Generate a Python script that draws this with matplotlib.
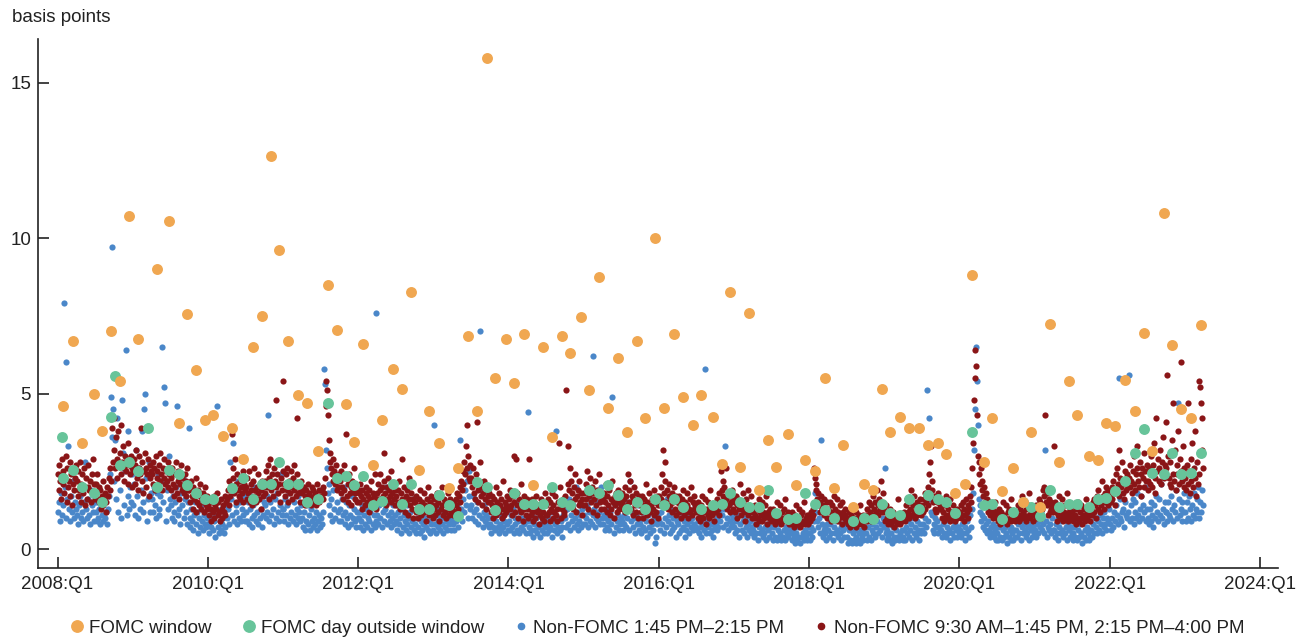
import numpy as np
import pandas as pd
import matplotlib
matplotlib.use('Agg')
import matplotlib.pyplot as plt
from matplotlib.lines import Line2D

plt.rcParams['font.family'] = ['Liberation Sans', 'DejaVu Sans']

# FOMC announcement days: move inside the 1:45-2:15 PM window (basis points)
fomc_dates = [
    "2008-01-30", "2008-03-18", "2008-04-30", "2008-06-25", "2008-08-05", "2008-09-16", "2008-10-29", "2008-12-16",
    "2009-01-28", "2009-04-29", "2009-06-24", "2009-08-12", "2009-09-23", "2009-11-04", "2009-12-16",
    "2010-01-27", "2010-03-16", "2010-04-28", "2010-06-23", "2010-08-10", "2010-09-21", "2010-11-03", "2010-12-14",
    "2011-01-26", "2011-03-15", "2011-04-27", "2011-06-22", "2011-08-09", "2011-09-21", "2011-11-02", "2011-12-13",
    "2012-01-25", "2012-03-13", "2012-04-25", "2012-06-20", "2012-08-01", "2012-09-13", "2012-10-24", "2012-12-12",
    "2013-01-30", "2013-03-20", "2013-05-01", "2013-06-19", "2013-07-31", "2013-09-18", "2013-10-30", "2013-12-18",
    "2014-01-29", "2014-03-19", "2014-04-30", "2014-06-18", "2014-07-30", "2014-09-17", "2014-10-29", "2014-12-17",
    "2015-01-28", "2015-03-18", "2015-04-29", "2015-06-17", "2015-07-29", "2015-09-17", "2015-10-28", "2015-12-16",
    "2016-01-27", "2016-03-16", "2016-04-27", "2016-06-15", "2016-07-27", "2016-09-21", "2016-11-02", "2016-12-14",
    "2017-02-01", "2017-03-15", "2017-05-03", "2017-06-14", "2017-07-26", "2017-09-20", "2017-11-01", "2017-12-13",
    "2018-01-31", "2018-03-21", "2018-05-02", "2018-06-13", "2018-08-01", "2018-09-26", "2018-11-08", "2018-12-19",
    "2019-01-30", "2019-03-20", "2019-05-01", "2019-06-19", "2019-07-31", "2019-09-18", "2019-10-30", "2019-12-11",
    "2020-01-29", "2020-03-03", "2020-04-29", "2020-06-10", "2020-07-29", "2020-09-16", "2020-11-05", "2020-12-16",
    "2021-01-27", "2021-03-17", "2021-04-28", "2021-06-16", "2021-07-28", "2021-09-22", "2021-11-03", "2021-12-15",
    "2022-01-26", "2022-03-16", "2022-05-04", "2022-06-15", "2022-07-27", "2022-09-21", "2022-11-02", "2022-12-14",
    "2023-02-01", "2023-03-22",
]
fomc_window = [
    4.6, 6.7, 3.4, 5.0, 3.8, 7.0, 5.4, 10.7,
    6.75, 9.0, 10.55, 4.05, 7.55, 5.75, 4.15,
    4.3, 3.65, 3.9, 2.9, 6.5, 7.5, 12.65, 9.6,
    6.7, 4.95, 4.7, 3.15, 8.5, 7.05, 4.65, 3.45,
    6.6, 2.7, 4.15, 5.8, 5.15, 8.25, 2.55, 4.45,
    3.4, 1.95, 2.6, 6.85, 4.45, 15.8, 5.5, 6.75,
    5.35, 6.9, 2.05, 6.5, 3.6, 6.85, 6.3, 7.45,
    5.1, 8.75, 4.55, 6.15, 3.75, 6.7, 4.2, 10.0,
    4.55, 6.9, 4.9, 4.0, 4.95, 4.25, 2.75, 8.25,
    2.65, 7.6, 1.9, 3.5, 2.65, 3.7, 2.05, 2.85,
    2.5, 5.5, 1.95, 3.35, 1.35, 2.1, 1.9, 5.15,
    3.75, 4.25, 3.9, 3.9, 3.35, 3.4, 3.05, 1.8,
    2.1, 8.8, 2.8, 4.2, 1.85, 2.6, 1.5, 3.75,
    1.35, 7.25, 2.8, 5.4, 4.3, 3.0, 2.85, 4.05,
    3.95, 5.45, 4.45, 6.95, 3.15, 10.8, 6.55, 4.5,
    4.2, 7.2,
]

# FOMC days: move outside the window
outside_dates = [
    "2008-01-22", "2008-01-30", "2008-03-18", "2008-04-30", "2008-06-25", "2008-08-05", "2008-09-16", "2008-10-08", "2008-10-29", "2008-12-16",
    "2009-01-28", "2009-03-18", "2009-04-29", "2009-06-24", "2009-08-12", "2009-09-23", "2009-11-04", "2009-12-16",
    "2010-01-27", "2010-04-28", "2010-06-23", "2010-08-10", "2010-09-21", "2010-11-03", "2010-12-14",
    "2011-01-26", "2011-03-15", "2011-04-27", "2011-06-22", "2011-08-09", "2011-09-21", "2011-11-02", "2011-12-13",
    "2012-01-25", "2012-03-13", "2012-04-25", "2012-06-20", "2012-08-01", "2012-09-13", "2012-10-24", "2012-12-12",
    "2013-01-30", "2013-03-20", "2013-05-01", "2013-07-31", "2013-09-18", "2013-10-30",
    "2014-01-29", "2014-03-19", "2014-04-30", "2014-06-18", "2014-07-30", "2014-09-17", "2014-10-29",
    "2015-01-28", "2015-03-18", "2015-04-29", "2015-06-17", "2015-07-29", "2015-09-17", "2015-10-28", "2015-12-16",
    "2016-01-27", "2016-03-16", "2016-04-27", "2016-07-27", "2016-09-21", "2016-11-02", "2016-12-14",
    "2017-02-01", "2017-03-15", "2017-05-03", "2017-06-14", "2017-07-26", "2017-09-20", "2017-11-01", "2017-12-13",
    "2018-01-31", "2018-03-21", "2018-05-02", "2018-08-01", "2018-09-26", "2018-11-08", "2018-12-19",
    "2019-01-30", "2019-03-20", "2019-05-01", "2019-06-19", "2019-07-31", "2019-09-18", "2019-10-30", "2019-12-11",
    "2020-03-03", "2020-04-29", "2020-06-10", "2020-07-29", "2020-09-16", "2020-11-05", "2020-12-16",
    "2021-01-27", "2021-03-17", "2021-04-28", "2021-06-16", "2021-07-28", "2021-09-22", "2021-11-03", "2021-12-15",
    "2022-01-26", "2022-03-16", "2022-05-04", "2022-06-15", "2022-07-27", "2022-09-21", "2022-11-02", "2022-12-14",
    "2023-02-01", "2023-03-22",
]
outside_vals = [
    3.6, 2.3, 2.55, 2.0, 1.8, 1.5, 4.25, 5.55, 2.7, 2.8,
    2.5, 3.9, 2.0, 2.55, 2.4, 2.05, 1.8, 1.6,
    1.6, 1.95, 2.3, 1.6, 2.1, 2.1, 2.8,
    2.1, 2.1, 1.5, 1.6, 4.7, 2.3, 2.35, 2.05,
    2.35, 1.4, 1.55, 2.1, 1.45, 2.1, 1.3, 1.3,
    1.75, 1.4, 1.05, 2.15, 2.0, 1.25,
    1.8, 1.45, 1.45, 1.45, 2.0, 1.5, 1.4,
    1.9, 1.8, 2.05, 1.75, 1.3, 1.5, 1.3, 1.6,
    1.4, 1.6, 1.35, 1.3, 1.4, 1.45, 1.8,
    1.5, 1.35, 1.35, 1.9, 1.15, 0.95, 1.0, 1.8,
    1.45, 1.25, 1.0, 0.9, 1.0, 0.95, 1.45,
    1.15, 1.1, 1.6, 1.3, 1.75, 1.6, 1.5, 1.15,
    3.75, 1.4, 1.45, 0.95, 1.2, 1.5, 1.35,
    1.05, 1.9, 1.35, 1.45, 1.45, 1.35, 1.6, 1.65,
    1.85, 2.2, 3.1, 3.85, 2.45, 2.4, 3.1, 2.4,
    2.45, 3.1,
]

# non-FOMC days, 1:45-2:15 PM; one row per quarter from 2008:Q1 to 2023:Q1
non_fomc_window = [
    [1.2, 1.5, 0.9, 1.8, 1.1, 1.4, 7.9, 2.0, 1.0, 6.0, 1.6, 3.3, 1.3, 0.9, 1.7, 1.2, 2.2, 1.0, 1.5, 1.3],
    [1.1, 0.8, 1.4, 1.7, 1.0, 2.0, 1.2, 0.9, 1.5, 2.8, 1.3, 1.0, 1.6, 1.1, 0.8, 1.9, 1.4, 1.2, 0.9, 1.5],
    [1.2, 0.9, 1.5, 1.0, 1.3, 0.8, 1.4, 1.1, 0.9, 1.6, 1.0, 1.2, 0.8, 1.3, 1.7, 2.4, 4.9, 9.7, 3.6, 4.5],
    [2.2, 3.5, 1.6, 4.2, 1.2, 2.8, 1.9, 1.0, 4.8, 3.1, 1.4, 2.5, 6.4, 1.1, 1.7, 3.8, 1.3, 2.0, 1.5, 2.4],
    [1.4, 2.1, 1.1, 3.2, 1.7, 1.0, 2.6, 1.3, 1.9, 3.8, 1.2, 1.5, 4.5, 5.0, 2.3, 0.9, 1.6, 2.8, 1.2, 1.8],
    [1.6, 1.2, 2.0, 1.4, 1.0, 1.8, 2.4, 1.3, 1.1, 1.7, 2.2, 6.5, 1.5, 5.2, 4.7, 0.9, 1.9, 1.3, 3.0, 1.6],
    [1.4, 1.0, 1.7, 1.2, 0.9, 1.5, 2.0, 4.6, 1.1, 1.3, 0.8, 1.8, 1.4, 2.3, 1.0, 1.6, 1.2, 0.8, 1.5, 3.9],
    [1.0, 0.7, 1.3, 0.9, 0.6, 1.1, 1.5, 0.8, 1.2, 0.5, 1.0, 0.7, 1.4, 0.9, 0.6, 1.1, 0.8, 1.7, 0.7, 1.0],
    [0.8, 0.5, 1.0, 0.7, 1.2, 0.6, 0.9, 0.4, 1.1, 4.6, 0.7, 0.5, 0.9, 1.3, 0.6, 0.8, 1.0, 0.5, 0.7, 1.4],
    [1.0, 1.3, 0.8, 2.8, 1.6, 1.1, 3.4, 0.9, 1.9, 1.2, 1.4, 0.8, 2.2, 1.0, 1.5, 0.9, 1.3, 1.1, 1.7, 0.9],
    [1.2, 0.9, 1.5, 0.8, 1.3, 1.7, 1.0, 0.7, 1.4, 1.1, 2.0, 0.9, 1.2, 0.8, 1.6, 1.0, 1.3, 0.7, 1.1, 1.5],
    [1.4, 1.0, 1.7, 1.2, 4.3, 0.9, 1.5, 1.1, 2.0, 1.3, 0.8, 1.6, 1.0, 1.8, 1.2, 0.9, 1.4, 2.4, 1.1, 1.3],
    [1.3, 0.9, 1.6, 1.1, 1.4, 0.8, 1.8, 1.0, 1.2, 2.2, 0.9, 1.5, 1.1, 0.8, 1.3, 1.7, 1.0, 1.2, 0.9, 1.4],
    [1.0, 0.7, 1.2, 0.6, 0.9, 1.4, 0.8, 1.1, 0.6, 1.3, 0.9, 0.7, 1.0, 1.6, 0.8, 1.2, 0.6, 0.9, 1.1, 0.7],
    [1.0, 0.8, 1.2, 5.8, 5.3, 3.2, 2.6, 1.8, 1.4, 2.1, 1.1, 1.6, 0.9, 1.9, 1.3, 1.0, 2.3, 1.5, 1.2, 0.9],
    [1.3, 0.9, 1.6, 1.1, 2.0, 0.8, 1.2, 1.5, 1.0, 0.7, 1.4, 1.1, 0.8, 1.7, 1.0, 1.3, 0.9, 0.7, 1.2, 1.0],
    [1.0, 0.7, 1.2, 0.9, 1.4, 0.6, 1.1, 0.8, 1.3, 0.7, 1.0, 0.9, 1.2, 0.6, 1.5, 0.8, 1.1, 0.7, 7.6, 0.9],
    [1.1, 0.8, 1.4, 1.0, 1.6, 0.7, 1.2, 0.9, 1.3, 2.0, 0.8, 1.1, 1.5, 0.9, 0.7, 1.2, 1.0, 1.4, 0.8, 1.1],
    [0.9, 0.6, 1.2, 0.8, 1.0, 0.5, 1.3, 0.7, 1.1, 0.9, 0.6, 1.4, 0.8, 1.0, 0.5, 1.2, 0.7, 0.9, 1.6, 0.6],
    [0.8, 0.5, 1.0, 0.7, 1.2, 0.5, 0.9, 0.6, 1.1, 0.8, 0.4, 1.0, 0.7, 1.3, 0.6, 0.9, 0.5, 0.8, 1.1, 0.6],
    [4.0, 0.8, 0.5, 1.1, 0.7, 0.9, 1.3, 0.6, 1.0, 0.8, 0.5, 1.2, 0.7, 0.9, 0.6, 1.4, 0.8, 1.0, 0.6, 0.9],
    [0.8, 1.0, 0.6, 1.2, 0.9, 1.4, 0.7, 1.1, 3.5, 1.3, 0.9, 1.6, 1.2, 1.9, 1.4, 2.2, 1.0, 1.7, 2.5, 1.3],
    [1.4, 1.0, 1.7, 1.2, 0.9, 1.3, 1.5, 0.8, 1.1, 7.0, 1.9, 1.0, 0.7, 1.2, 1.4, 0.9, 1.1, 0.8, 1.0, 0.7],
    [0.8, 0.5, 1.0, 0.7, 1.2, 0.6, 0.9, 1.4, 0.7, 0.5, 1.1, 0.8, 0.6, 1.0, 0.7, 0.9, 0.5, 1.2, 0.8, 0.6],
    [0.9, 0.6, 1.1, 0.7, 1.3, 0.5, 1.0, 0.8, 1.5, 0.6, 0.9, 0.5, 1.2, 0.7, 1.0, 0.6, 0.8, 1.4, 0.5, 0.9],
    [4.4, 0.7, 0.5, 0.9, 0.6, 1.1, 0.4, 0.8, 0.6, 1.0, 0.5, 0.7, 1.2, 0.4, 0.8, 0.6, 0.9, 0.5, 0.7, 1.0],
    [0.8, 0.5, 1.0, 0.6, 0.7, 1.2, 0.4, 0.9, 0.6, 0.8, 3.8, 0.5, 0.7, 1.0, 0.6, 0.9, 0.4, 0.7, 1.1, 1.3],
    [1.0, 0.7, 1.3, 0.8, 1.6, 0.6, 1.1, 0.9, 1.4, 0.7, 1.0, 2.0, 0.8, 1.2, 0.6, 0.9, 1.1, 0.7, 1.3, 0.8],
    [1.1, 0.8, 1.0, 1.4, 0.7, 1.2, 0.9, 1.6, 0.8, 6.2, 1.1, 1.3, 0.7, 1.0, 1.5, 0.9, 1.2, 0.8, 2.0, 1.0],
    [0.8, 1.1, 0.6, 1.0, 0.7, 1.3, 0.9, 0.6, 1.2, 0.8, 4.9, 1.0, 0.5, 1.4, 0.7, 0.9, 1.1, 0.6, 0.8, 1.0],
    [0.9, 0.6, 1.1, 0.8, 1.3, 0.7, 1.0, 1.5, 0.6, 2.2, 0.9, 1.2, 0.7, 1.0, 0.5, 1.1, 0.8, 1.4, 0.6, 0.9],
    [0.8, 0.5, 1.0, 0.7, 1.2, 0.6, 0.9, 0.4, 1.1, 0.7, 0.5, 1.3, 0.8, 0.6, 1.0, 0.2, 0.9, 0.4, 0.8, 1.1],
    [0.9, 0.6, 1.2, 0.8, 1.4, 0.5, 1.0, 0.7, 1.6, 0.9, 1.1, 0.5, 1.3, 0.8, 0.6, 1.0, 0.7, 1.2, 0.4, 0.9],
    [0.8, 0.5, 1.0, 0.6, 1.2, 0.7, 0.9, 0.4, 1.1, 0.6, 0.8, 1.3, 0.5, 0.9, 0.7, 1.0, 0.6, 0.8, 1.4, 0.7],
    [0.6, 0.9, 0.5, 1.1, 0.7, 0.4, 0.8, 1.0, 0.6, 5.8, 0.5, 0.9, 0.7, 1.2, 0.5, 0.8, 0.6, 0.4, 0.9, 0.7],
    [0.8, 0.6, 1.0, 0.7, 1.2, 0.9, 1.5, 1.1, 0.7, 1.3, 3.3, 0.8, 1.0, 0.6, 1.4, 0.9, 0.7, 1.1, 0.8, 1.0],
    [0.7, 0.5, 0.9, 0.6, 1.1, 0.4, 0.8, 1.3, 0.6, 0.9, 0.5, 1.0, 0.7, 0.4, 0.8, 1.2, 0.6, 0.9, 0.5, 0.7],
    [0.6, 0.4, 0.8, 0.5, 1.0, 0.3, 0.7, 0.5, 0.9, 0.6, 0.4, 1.1, 0.5, 0.7, 0.3, 0.8, 0.6, 0.4, 0.7, 0.9],
    [0.5, 0.3, 0.7, 0.4, 0.9, 0.3, 0.6, 0.4, 0.8, 0.5, 0.3, 1.0, 0.4, 0.6, 0.3, 0.7, 0.5, 0.4, 0.6, 0.8],
    [0.5, 0.3, 0.6, 0.4, 0.8, 0.2, 0.5, 0.3, 0.7, 0.4, 0.2, 0.9, 0.4, 0.5, 0.3, 0.6, 0.4, 0.3, 0.5, 0.7],
    [0.5, 0.3, 0.7, 0.4, 0.6, 0.9, 1.8, 1.2, 0.9, 0.7, 1.0, 0.5, 3.5, 0.8, 0.4, 0.6, 0.5, 0.7, 0.3, 0.8],
    [0.6, 0.4, 0.8, 0.5, 1.0, 0.3, 0.7, 0.5, 0.9, 0.6, 0.4, 1.1, 0.5, 0.7, 0.3, 0.8, 0.6, 0.4, 0.7, 0.9],
    [0.4, 0.2, 0.6, 0.3, 0.7, 0.2, 0.5, 0.3, 0.6, 0.4, 0.2, 0.8, 0.3, 0.5, 0.2, 0.6, 0.4, 0.3, 0.5, 0.7],
    [0.5, 0.3, 0.7, 0.4, 0.9, 0.3, 0.6, 0.8, 0.5, 1.0, 0.4, 0.7, 0.9, 0.5, 1.2, 0.6, 0.8, 0.4, 1.0, 0.7],
    [2.6, 0.5, 0.3, 0.6, 0.4, 0.8, 0.3, 0.5, 0.2, 0.7, 0.4, 0.3, 0.6, 0.4, 0.9, 0.3, 0.5, 0.4, 0.6, 0.3],
    [0.4, 0.6, 0.3, 0.7, 0.5, 0.9, 0.4, 0.6, 0.8, 0.3, 1.0, 0.5, 0.7, 0.4, 0.9, 0.5, 0.6, 0.3, 0.8, 0.5],
    [0.6, 0.8, 0.5, 1.0, 0.7, 5.1, 0.9, 4.2, 1.6, 1.2, 1.1, 0.6, 0.8, 0.5, 1.0, 0.7, 0.9, 0.5, 0.7, 0.6],
    [0.6, 0.4, 0.8, 0.5, 1.0, 0.4, 0.7, 0.5, 0.9, 0.6, 0.3, 1.1, 0.5, 0.7, 0.4, 0.8, 0.6, 0.4, 0.7, 0.5],
    [0.6, 0.4, 0.8, 0.5, 1.0, 0.3, 0.7, 0.5, 0.9, 0.6, 0.4, 1.1, 0.7, 1.3, 1.8, 3.2, 4.5, 6.5, 5.4, 4.0],
    [1.6, 1.2, 1.4, 0.9, 1.1, 0.7, 1.0, 0.6, 0.8, 0.5, 0.9, 0.6, 0.4, 0.7, 0.5, 0.8, 0.4, 0.6, 0.3, 0.7],
    [0.5, 0.3, 0.7, 0.4, 0.8, 0.3, 0.6, 0.4, 0.7, 0.5, 0.2, 0.9, 0.4, 0.6, 0.3, 0.7, 0.5, 0.3, 0.6, 0.4],
    [0.6, 0.4, 0.8, 0.5, 0.9, 0.3, 0.7, 0.5, 0.8, 0.6, 0.4, 1.0, 0.5, 0.7, 0.3, 0.8, 0.6, 0.4, 0.7, 0.5],
    [0.6, 0.4, 0.8, 0.5, 0.9, 0.7, 1.2, 1.0, 0.6, 0.8, 0.5, 3.2, 0.9, 0.4, 0.7, 0.6, 0.8, 0.5, 1.0, 0.6],
    [0.6, 0.4, 0.8, 0.5, 1.0, 0.3, 0.7, 0.5, 0.9, 0.6, 0.4, 1.1, 0.5, 0.7, 0.3, 0.8, 0.6, 0.4, 0.7, 0.5],
    [0.5, 0.3, 0.7, 0.4, 0.9, 0.3, 0.6, 0.4, 0.8, 0.5, 0.2, 1.0, 0.4, 0.6, 0.3, 0.7, 0.5, 0.3, 0.6, 0.4],
    [0.6, 0.4, 0.8, 0.5, 1.0, 0.7, 0.5, 0.9, 0.6, 1.1, 0.8, 0.5, 1.0, 0.7, 1.2, 0.8, 0.6, 1.0, 0.9, 1.3],
    [0.8, 0.6, 1.0, 0.7, 1.2, 0.9, 1.4, 1.1, 0.8, 5.5, 1.0, 1.6, 0.9, 1.2, 1.3, 0.7, 1.5, 1.1, 1.0, 1.2],
    [5.6, 0.9, 1.4, 1.0, 1.6, 0.8, 1.2, 1.5, 1.0, 1.8, 1.1, 0.9, 1.3, 1.7, 1.0, 1.4, 1.2, 2.0, 0.9, 1.3],
    [1.0, 0.8, 1.3, 0.9, 1.5, 1.1, 0.7, 1.4, 1.0, 1.7, 1.2, 0.9, 1.6, 1.1, 2.1, 1.0, 1.3, 0.8, 1.5, 1.2],
    [1.2, 0.9, 1.5, 1.1, 1.0, 1.7, 1.3, 0.9, 1.4, 1.2, 1.9, 1.0, 4.7, 1.6, 1.1, 1.3, 0.9, 1.5, 1.2, 1.8],
    [1.2, 0.9, 1.5, 1.0, 1.7, 1.3, 0.9, 1.4, 1.1, 1.8, 1.0, 1.3, 1.6, 1.2, 2.0, 1.0, 1.5, 1.2, 1.9, 1.4],
]

# non-FOMC days, 9:30 AM-1:45 PM and 2:15-4:00 PM; one row per quarter
non_fomc_other = [
    [2.4, 1.9, 2.7, 2.2, 1.6, 2.9, 2.1, 2.5, 1.8, 2.3, 3.0, 1.5, 2.6, 2.0, 2.2, 1.7, 2.8, 2.4, 1.4, 2.1, 2.6, 1.9, 2.3, 2.7],
    [2.2, 1.7, 2.5, 1.9, 2.8, 1.5, 2.1, 2.4, 1.8, 2.6, 1.4, 2.0, 2.3, 1.6, 2.7, 2.0, 1.9, 2.2, 1.5, 2.4, 1.8, 2.9, 2.1, 1.6],
    [2.1, 1.8, 2.4, 1.6, 2.0, 1.5, 1.9, 1.3, 1.7, 2.2, 1.4, 1.6, 1.8, 1.2, 1.5, 2.0, 1.7, 2.3, 1.9, 2.6, 2.2, 3.9, 2.8, 4.2],
    [3.2, 2.6, 3.6, 2.9, 2.3, 3.8, 2.7, 3.1, 2.4, 4.0, 2.8, 3.3, 2.2, 2.6, 3.0, 2.5, 2.9, 3.4, 2.1, 2.7, 2.4, 3.0, 2.0, 2.6],
    [2.5, 2.9, 2.1, 2.7, 3.2, 2.3, 1.9, 2.6, 3.0, 2.4, 3.9, 2.2, 2.8, 1.8, 2.5, 3.1, 2.0, 2.6, 2.4, 2.9, 1.7, 2.3, 2.7, 2.5],
    [2.4, 2.8, 2.1, 2.6, 1.9, 3.0, 2.3, 2.5, 2.0, 2.7, 2.2, 3.1, 2.4, 1.9, 2.6, 2.3, 2.9, 2.1, 2.5, 2.2, 2.8, 2.0, 2.4, 2.6],
    [2.3, 1.9, 2.6, 2.1, 1.7, 2.4, 2.0, 2.8, 1.8, 2.2, 2.5, 1.6, 2.1, 2.7, 1.9, 2.3, 2.0, 1.8, 2.4, 2.2, 1.7, 2.6, 1.9, 2.1],
    [1.9, 1.5, 2.2, 1.7, 1.3, 2.0, 1.6, 1.8, 1.2, 2.3, 1.5, 1.9, 1.4, 1.7, 2.1, 1.3, 1.6, 1.8, 1.2, 1.5, 2.0, 1.4, 1.7, 1.3],
    [1.4, 1.1, 1.6, 1.3, 0.9, 1.5, 1.2, 1.7, 1.0, 1.4, 1.3, 1.8, 1.1, 1.5, 1.2, 0.9, 1.6, 1.3, 1.0, 1.4, 1.2, 1.7, 1.1, 1.5],
    [1.6, 1.9, 1.4, 2.2, 1.7, 2.0, 3.7, 2.6, 2.3, 1.8, 2.9, 2.1, 1.5, 2.4, 1.9, 1.7, 2.2, 1.6, 2.0, 1.8, 2.5, 1.5, 2.1, 1.9],
    [2.0, 1.6, 2.3, 1.8, 2.5, 1.5, 2.1, 1.9, 1.4, 2.2, 1.7, 2.6, 1.9, 1.5, 2.0, 1.8, 2.4, 1.6, 2.1, 1.3, 1.9, 2.2, 1.7, 2.0],
    [2.2, 1.8, 2.5, 2.0, 2.7, 1.6, 2.3, 2.9, 1.9, 2.4, 2.1, 1.7, 2.6, 2.2, 4.8, 2.0, 2.4, 1.8, 2.8, 2.1, 1.5, 2.3, 1.9, 2.5],
    [5.4, 2.1, 1.7, 2.4, 1.9, 2.6, 1.5, 2.2, 2.0, 1.8, 2.5, 1.6, 2.3, 1.9, 2.7, 2.1, 1.7, 2.4, 4.2, 1.8, 2.0, 1.5, 2.2, 1.9],
    [1.8, 1.5, 2.0, 1.7, 1.4, 1.9, 1.6, 2.1, 1.5, 1.8, 1.7, 1.4, 2.0, 1.6, 1.9, 1.5, 1.7, 1.8, 1.4, 2.1, 1.6, 1.9, 1.5, 1.7],
    [1.7, 1.9, 1.6, 2.0, 1.8, 2.3, 4.6, 5.4, 5.1, 4.3, 3.5, 2.8, 3.1, 2.6, 2.4, 2.9, 2.2, 2.5, 2.1, 2.7, 1.9, 2.3, 2.0, 2.4],
    [2.2, 1.8, 2.5, 2.0, 1.6, 2.7, 1.9, 2.3, 3.7, 1.7, 2.1, 1.5, 2.4, 1.8, 2.0, 1.4, 2.2, 1.9, 2.6, 1.6, 1.8, 2.0, 1.5, 1.9],
    [1.8, 1.5, 2.1, 1.7, 1.3, 1.9, 1.6, 2.3, 1.4, 1.8, 2.0, 1.5, 1.7, 1.2, 1.9, 1.6, 2.2, 1.4, 1.8, 1.5, 1.7, 2.4, 1.3, 1.6],
    [1.8, 2.1, 1.6, 1.9, 2.4, 1.5, 2.0, 1.7, 3.1, 2.2, 1.8, 1.4, 2.0, 1.6, 2.3, 1.9, 1.7, 2.5, 1.5, 1.8, 2.1, 1.6, 1.9, 1.4],
    [1.7, 1.4, 1.9, 1.5, 2.2, 1.3, 1.8, 1.6, 2.9, 1.4, 2.0, 1.2, 1.7, 1.5, 1.9, 1.1, 1.6, 2.3, 1.4, 1.8, 1.3, 1.6, 1.0, 1.5],
    [1.5, 1.2, 1.7, 1.3, 1.0, 1.6, 1.4, 1.9, 1.1, 1.5, 1.3, 1.8, 1.2, 1.4, 0.9, 1.6, 1.3, 2.0, 1.1, 1.5, 1.2, 1.7, 1.4, 1.0],
    [1.3, 1.6, 1.1, 1.4, 1.8, 1.2, 1.5, 0.9, 1.7, 1.3, 1.4, 2.0, 1.1, 1.6, 1.2, 1.5, 1.0, 1.4, 1.8, 1.3, 1.1, 1.6, 1.2, 1.5],
    [1.3, 1.1, 1.5, 1.2, 1.6, 1.4, 1.8, 1.3, 1.7, 2.0, 1.5, 2.2, 1.9, 2.5, 2.1, 2.8, 2.4, 3.3, 2.6, 4.0, 3.0, 2.3, 2.7, 2.2],
    [2.3, 2.0, 2.6, 1.8, 2.2, 1.6, 2.4, 4.1, 1.9, 1.5, 2.1, 2.8, 1.7, 2.0, 1.4, 1.8, 2.2, 1.6, 1.9, 1.3, 2.0, 1.7, 1.5, 1.8],
    [1.5, 1.2, 1.7, 1.4, 1.0, 1.6, 1.3, 2.0, 1.1, 1.5, 1.3, 1.8, 1.2, 1.4, 1.6, 1.0, 1.3, 2.2, 1.1, 1.5, 1.2, 1.4, 1.7, 1.3],
    [1.6, 1.3, 1.9, 1.4, 1.1, 1.7, 3.0, 1.5, 1.2, 2.9, 1.8, 1.4, 1.0, 1.6, 1.3, 2.1, 1.2, 1.5, 0.9, 1.7, 1.3, 1.4, 1.1, 1.6],
    [1.3, 1.0, 2.9, 1.4, 1.1, 1.6, 1.2, 0.9, 1.5, 1.3, 1.0, 1.7, 1.2, 1.4, 0.8, 1.3, 1.1, 1.6, 1.0, 1.2, 1.4, 0.9, 1.8, 1.1],
    [1.4, 1.1, 1.6, 1.2, 0.9, 1.5, 1.3, 1.8, 1.0, 1.4, 1.2, 1.7, 1.1, 1.3, 0.9, 1.5, 3.4, 2.0, 1.0, 1.4, 1.3, 1.6, 1.1, 1.2],
    [1.7, 5.1, 1.4, 3.3, 2.1, 1.9, 2.6, 1.5, 2.2, 1.8, 1.3, 2.0, 1.6, 2.4, 1.2, 1.7, 1.9, 1.4, 2.2, 1.5, 1.8, 1.1, 1.6, 1.4],
    [1.8, 1.4, 2.1, 1.6, 2.5, 1.3, 1.9, 1.7, 2.3, 1.5, 2.0, 1.2, 1.8, 1.6, 2.2, 1.4, 1.9, 1.1, 1.7, 2.4, 1.5, 1.8, 1.3, 1.6],
    [1.6, 1.3, 1.8, 1.5, 2.1, 1.2, 1.7, 1.4, 1.9, 1.1, 1.6, 1.3, 2.2, 1.5, 1.0, 1.7, 1.4, 1.8, 1.2, 1.5, 1.9, 1.3, 1.6, 1.4],
    [1.5, 1.8, 1.3, 1.6, 2.0, 1.2, 1.7, 1.4, 2.4, 1.9, 1.5, 2.2, 1.3, 1.7, 1.1, 1.6, 2.0, 1.4, 1.8, 1.2, 1.5, 1.0, 1.7, 1.4],
    [1.5, 1.2, 1.7, 1.4, 1.0, 1.6, 1.3, 2.1, 1.1, 1.5, 1.3, 1.8, 1.2, 1.4, 0.9, 1.6, 1.3, 1.9, 1.1, 1.5, 1.2, 1.7, 1.4, 1.0],
    [1.7, 1.4, 2.0, 1.6, 2.4, 3.2, 1.8, 2.2, 2.8, 1.5, 1.9, 1.3, 1.7, 2.1, 1.4, 1.6, 1.2, 1.8, 1.5, 2.0, 1.3, 1.7, 1.1, 1.5],
    [1.5, 1.2, 1.7, 1.4, 1.0, 1.6, 1.3, 1.9, 1.1, 1.5, 1.2, 1.8, 1.4, 1.0, 1.3, 1.6, 1.2, 2.0, 1.1, 1.5, 1.3, 1.7, 1.4, 1.2],
    [1.3, 1.0, 1.5, 1.2, 0.9, 1.4, 1.1, 1.7, 1.0, 1.3, 1.2, 1.6, 0.8, 1.3, 1.1, 1.5, 1.0, 1.9, 1.2, 1.4, 1.1, 1.3, 0.9, 1.2],
    [1.4, 1.2, 1.6, 1.3, 1.8, 1.1, 1.5, 2.5, 1.9, 2.2, 1.7, 2.0, 1.5, 2.6, 1.6, 1.3, 1.8, 1.4, 1.7, 1.2, 1.5, 1.9, 1.3, 1.6],
    [1.5, 1.2, 1.7, 1.4, 1.0, 1.6, 1.3, 2.1, 1.1, 1.5, 1.3, 1.8, 1.2, 1.4, 0.9, 1.6, 1.3, 1.9, 1.1, 1.4, 1.2, 1.7, 1.3, 1.0],
    [1.2, 1.0, 1.4, 1.1, 0.8, 1.3, 1.0, 1.6, 0.9, 1.2, 1.1, 1.5, 0.9, 1.2, 1.0, 1.4, 1.1, 1.7, 0.8, 1.2, 1.0, 1.3, 1.1, 0.9],
    [1.1, 0.9, 1.3, 1.0, 0.8, 1.2, 1.0, 1.5, 0.9, 1.1, 1.0, 1.4, 0.8, 1.2, 0.9, 1.3, 1.0, 1.6, 0.9, 1.1, 1.0, 1.2, 0.8, 1.1],
    [1.0, 0.8, 1.2, 0.9, 0.7, 1.1, 0.9, 1.4, 0.8, 1.0, 0.9, 1.3, 0.7, 1.1, 0.8, 1.2, 0.9, 1.5, 0.8, 1.0, 0.9, 1.1, 0.8, 1.0],
    [1.1, 0.9, 1.2, 1.0, 1.3, 1.1, 2.6, 2.3, 1.9, 2.1, 1.6, 1.8, 1.4, 1.5, 1.2, 1.7, 1.3, 1.4, 1.1, 1.6, 1.2, 1.3, 1.5, 1.0],
    [1.3, 1.0, 1.5, 1.2, 0.9, 1.4, 1.1, 1.7, 1.0, 1.3, 1.1, 1.6, 0.9, 1.2, 1.0, 1.4, 1.1, 1.5, 0.8, 1.2, 1.0, 1.3, 1.1, 0.9],
    [1.0, 0.8, 1.2, 0.9, 0.7, 1.1, 0.9, 1.3, 0.8, 1.0, 0.9, 1.2, 0.7, 1.0, 0.8, 1.1, 0.9, 1.4, 0.8, 1.0, 0.9, 1.1, 0.7, 0.9],
    [1.1, 0.9, 1.3, 1.0, 1.5, 1.2, 0.9, 1.4, 1.1, 1.7, 1.3, 1.0, 1.5, 1.2, 1.9, 1.4, 1.1, 1.6, 1.3, 2.2, 1.5, 1.2, 1.8, 1.3],
    [1.2, 0.9, 1.4, 1.0, 0.8, 1.1, 0.9, 1.3, 0.8, 1.0, 0.9, 1.2, 0.7, 1.0, 0.9, 1.1, 0.8, 1.6, 0.9, 1.0, 0.8, 1.1, 0.9, 1.0],
    [1.0, 1.2, 0.9, 1.4, 1.1, 1.6, 1.2, 1.0, 1.5, 1.3, 1.9, 1.1, 1.4, 1.2, 1.7, 1.0, 1.3, 1.5, 1.1, 1.4, 1.2, 1.6, 1.3, 1.1],
    [1.4, 1.2, 1.6, 1.3, 1.8, 1.5, 1.7, 1.4, 2.0, 2.4, 2.8, 3.3, 2.2, 1.9, 1.5, 1.7, 1.3, 1.6, 1.2, 1.5, 1.8, 1.3, 1.6, 1.4],
    [1.3, 1.0, 1.5, 1.2, 0.9, 1.4, 1.1, 1.7, 1.0, 1.3, 1.1, 1.6, 0.9, 1.2, 1.0, 1.4, 1.1, 1.8, 0.9, 1.2, 1.0, 1.3, 1.1, 1.2],
    [1.2, 1.0, 1.4, 1.1, 1.5, 0.9, 1.3, 1.1, 1.6, 1.2, 1.0, 1.4, 1.3, 1.7, 1.5, 2.0, 2.6, 3.4, 4.8, 6.4, 5.5, 5.9, 4.3, 3.0],
    [2.8, 2.4, 2.1, 2.6, 1.9, 2.2, 1.7, 2.0, 1.5, 1.8, 1.4, 1.6, 1.2, 1.5, 1.3, 1.1, 1.4, 1.2, 1.0, 1.3, 1.1, 1.5, 1.2, 1.0],
    [1.1, 0.9, 1.3, 1.0, 0.8, 1.2, 1.0, 1.5, 0.9, 1.1, 1.0, 1.4, 0.8, 1.2, 0.9, 1.3, 1.0, 1.6, 0.9, 1.1, 1.0, 1.2, 0.9, 1.1],
    [1.2, 1.0, 1.4, 1.1, 0.9, 1.3, 1.1, 1.7, 1.0, 1.2, 1.1, 1.5, 0.9, 1.3, 1.0, 1.4, 1.1, 1.8, 1.0, 1.2, 1.1, 1.3, 0.9, 1.2],
    [1.2, 1.0, 1.4, 1.1, 1.3, 1.6, 1.2, 1.5, 1.0, 1.3, 1.9, 2.0, 1.7, 4.3, 1.5, 1.8, 1.4, 1.1, 1.6, 1.2, 1.5, 1.3, 1.4, 1.2],
    [1.3, 3.3, 1.5, 1.2, 0.9, 1.4, 1.1, 1.7, 1.0, 1.3, 1.1, 1.6, 0.9, 1.2, 1.0, 1.4, 1.1, 1.8, 0.9, 1.2, 1.0, 1.3, 1.1, 1.0],
    [1.2, 0.9, 1.4, 1.1, 0.8, 1.3, 1.0, 1.5, 0.9, 1.2, 1.0, 1.4, 0.8, 1.1, 1.0, 1.3, 0.9, 1.6, 1.0, 1.2, 1.1, 1.3, 0.9, 1.1],
    [1.3, 1.1, 1.5, 1.2, 1.6, 1.4, 1.0, 1.7, 1.3, 1.9, 1.5, 1.2, 1.6, 1.4, 2.2, 1.7, 1.3, 1.8, 1.5, 2.0, 1.6, 1.4, 1.9, 1.7],
    [1.7, 1.5, 2.0, 1.6, 2.2, 1.8, 1.4, 2.4, 1.9, 2.6, 2.1, 3.2, 1.7, 2.3, 2.0, 2.8, 1.8, 2.2, 1.6, 2.5, 2.1, 1.9, 2.4, 2.0],
    [2.3, 2.0, 2.7, 2.2, 1.8, 2.5, 2.1, 3.0, 1.9, 2.4, 2.6, 3.3, 2.2, 2.0, 2.8, 2.4, 1.7, 2.6, 2.3, 3.1, 2.0, 2.5, 2.2, 2.7],
    [2.2, 1.9, 2.6, 2.1, 3.0, 2.4, 2.0, 2.7, 3.4, 2.3, 1.8, 4.2, 2.5, 2.9, 2.2, 2.6, 3.2, 2.1, 2.8, 2.4, 3.6, 2.3, 2.7, 4.1],
    [2.6, 5.6, 3.0, 2.3, 2.1, 2.8, 2.0, 3.5, 2.4, 4.7, 2.2, 3.2, 1.9, 2.7, 2.4, 3.8, 2.1, 2.9, 6.0, 2.5, 2.2, 3.3, 2.0, 2.6],
    [2.3, 1.9, 2.7, 2.1, 4.7, 2.5, 1.8, 2.9, 2.2, 3.4, 2.0, 2.6, 3.8, 2.3, 1.7, 2.8, 2.1, 2.4, 5.4, 5.2, 4.7, 4.2, 3.2, 2.6],
]

first_year = 2008
xtick_years = list(range(2008, 2025, 2))
xtick_labels = [f"{y}:Q1" for y in xtick_years]


def frac_year(dates):
    d = pd.to_datetime(pd.Series(dates))
    ndays = np.where(d.dt.is_leap_year, 366, 365)
    return (d.dt.year + (d.dt.dayofyear - 1) / ndays).to_numpy()


def quarter_points(rows):
    xs, ys = [], []
    for q, vals in enumerate(rows):
        n = len(vals)
        start = first_year + 0.25 * q
        for i, v in enumerate(vals):
            xs.append(start + 0.25 * (i + 0.5) / n)
            ys.append(v)
    return np.array(xs), np.array(ys)


c_orange = '#F0A751'
c_green = '#67C49A'
c_blue = '#4A87C9'
c_red = '#8A1517'
c_text = '#222222'

fig = plt.figure(figsize=(13.06, 6.41), dpi=100)
ax = fig.add_axes([38 / 1306, 1 - 568 / 641, (1278 - 38) / 1306, (568 - 39) / 641])

bx, by = quarter_points(non_fomc_window)
rx, ry = quarter_points(non_fomc_other)
ax.scatter(bx, by, s=20, color=c_blue, linewidths=0, zorder=2)
ax.scatter(rx, ry, s=20, color=c_red, linewidths=0, zorder=3)
ax.scatter(frac_year(outside_dates), outside_vals, s=62, color=c_green, linewidths=0, zorder=4)
ax.scatter(frac_year(fomc_dates), fomc_window, s=62, color=c_orange, linewidths=0, zorder=5)

ax.set_xlim(2007.74, 2024.24)
ax.set_ylim(-0.61, 16.4)
ax.set_xticks(xtick_years)
ax.set_xticklabels(xtick_labels)
ax.set_yticks([0, 5, 10, 15])

for side in ['top', 'right']:
    ax.spines[side].set_visible(False)
for side in ['left', 'bottom']:
    ax.spines[side].set_color(c_text)
    ax.spines[side].set_linewidth(1.2)

ax.tick_params(axis='both', direction='in', length=8, width=1.2, colors=c_text, labelsize=13.5)
ax.tick_params(axis='y', pad=5)
ax.tick_params(axis='x', pad=6)

fig.text(12 / 1306, 1 - 17 / 641, 'basis points', fontsize=13.5, color=c_text, va='center', ha='left')

handles = [
    Line2D([], [], ls='none', marker='o', ms=8.2, color=c_orange),
    Line2D([], [], ls='none', marker='o', ms=8.2, color=c_green),
    Line2D([], [], ls='none', marker='o', ms=4.5, color=c_blue),
    Line2D([], [], ls='none', marker='o', ms=4.5, color=c_red),
]
labels = ['FOMC window', 'FOMC day outside window', 'Non-FOMC 1:45 PM\u20132:15 PM',
          'Non-FOMC 9:30 AM\u20131:45 PM, 2:15 PM\u20134:00 PM']
leg = fig.legend(handles, labels, loc='center', bbox_to_anchor=(0.503, 1 - 628 / 641), ncol=4,
                 frameon=False, fontsize=13.5, handlelength=0.8, handletextpad=0.25,
                 columnspacing=1.57, borderaxespad=0, borderpad=0)
for t in leg.get_texts():
    t.set_color(c_text)

fig.savefig('out.png', dpi=100)
